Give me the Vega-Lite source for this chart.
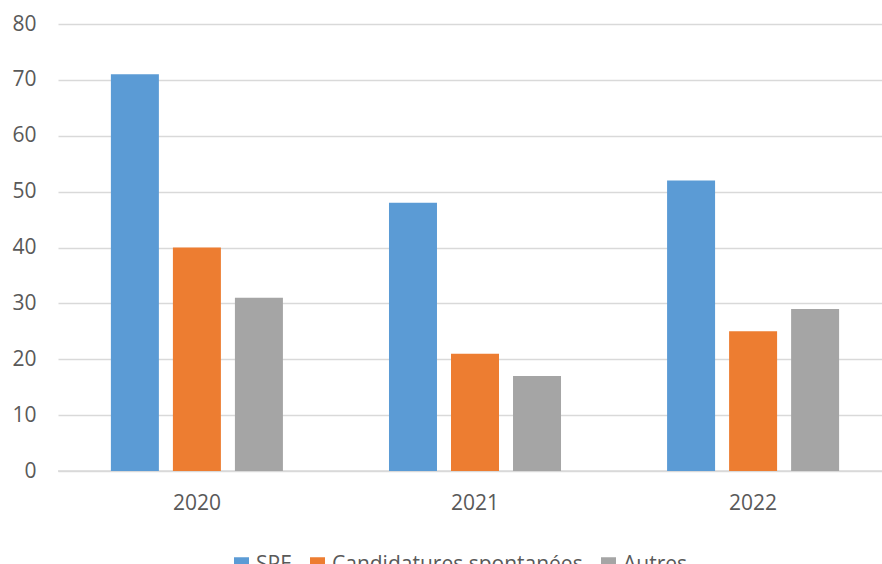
{
  "$schema": "https://vega.github.io/schema/vega-lite/v6.json",
  "autosize": {"type": "none"},
  "padding": {"left": 58, "top": 24, "right": 0, "bottom": 100},
  "width": 834,
  "height": 447,
  "background": "white",
  "config": {
    "font": "Open Sans",
    "view": {"stroke": null},
    "axis": {"labelColor": "#595959", "labelFontSize": 21, "domain": false, "ticks": false, "title": null}
  },
  "data": {
    "values": [
      {"annee": "2020", "source": "SPE", "valeur": 71},
      {"annee": "2020", "source": "Candidatures spontanées", "valeur": 40},
      {"annee": "2020", "source": "Autres", "valeur": 31},
      {"annee": "2021", "source": "SPE", "valeur": 48},
      {"annee": "2021", "source": "Candidatures spontanées", "valeur": 21},
      {"annee": "2021", "source": "Autres", "valeur": 17},
      {"annee": "2022", "source": "SPE", "valeur": 52},
      {"annee": "2022", "source": "Candidatures spontanées", "valeur": 25},
      {"annee": "2022", "source": "Autres", "valeur": 29}
    ]
  },
  "layer": [
    {
      "mark": {"type": "rule", "color": "#D9D9D9", "strokeWidth": 1.5},
      "data": {"values": [{"v": 0}]},
      "encoding": {"y": {"field": "v", "type": "quantitative"}}
    },
    {
      "mark": {"type": "bar"},
      "encoding": {
        "x": {
          "field": "annee", "type": "nominal",
          "scale": {"paddingInner": 0.331, "paddingOuter": 0.165},
          "axis": {"labelAngle": 0, "labelPadding": 21, "grid": false}
        },
        "xOffset": {
          "field": "source", "type": "nominal",
          "sort": ["SPE", "Candidatures spontanées", "Autres"],
          "scale": {"paddingInner": 0.226, "paddingOuter": 0.113}
        },
        "y": {
          "field": "valeur", "type": "quantitative",
          "scale": {"domain": [0, 80], "nice": false},
          "axis": {"values": [0, 10, 20, 30, 40, 50, 60, 70, 80], "grid": true, "gridColor": "#D9D9D9", "gridWidth": 1.5, "labelPadding": 22}
        },
        "color": {
          "field": "source", "type": "nominal",
          "sort": ["SPE", "Candidatures spontanées", "Autres"],
          "scale": {"domain": ["SPE", "Candidatures spontanées", "Autres"], "range": ["#5B9BD5", "#ED7D31", "#A5A5A5"]},
          "legend": {
            "title": null, "orient": "none", "direction": "horizontal",
            "legendX": 173, "legendY": 530,
            "symbolType": "square", "symbolSize": 225, "symbolStrokeWidth": 0,
            "labelFontSize": 21, "labelColor": "#595959", "labelOffset": 4, "labelLimit": 400,
            "columnPadding": 15
          }
        }
      }
    }
  ]
}
